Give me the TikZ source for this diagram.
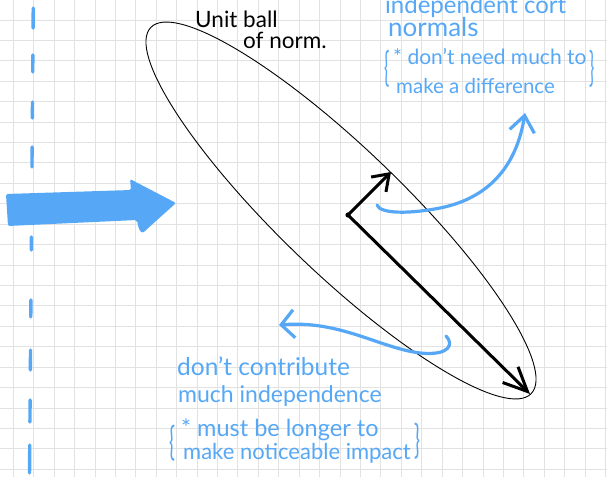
\documentclass[tikz,border=0pt]{standalone}
\usepackage{fontspec}
\setmainfont{Lato}
\usetikzlibrary{arrows.meta}
\definecolor{handblue}{RGB}{86,168,246}
\definecolor{gridgray}{RGB}{226,226,226}
\tikzset{
  gridline/.style={draw=gridgray, line width=0.9pt},
  bluestroke/.style={draw=handblue, line width=3.2pt, line cap=round, line join=round},
  blackvec/.style={draw=black, line width=3pt, line cap=round, line join=round},
  hand/.style={text=handblue, inner sep=0pt, anchor=base west},
  handblack/.style={text=black, inner sep=0pt, anchor=base west, font=\fontsize{22.5}{26}\selectfont},
  bracenode/.style={text=handblue, inner sep=0pt, anchor=center, font=\fontsize{22}{26}\selectfont},
}
\newcommand{\fsz}[1]{\fontsize{#1}{#1}\selectfont}
\begin{document}
\begin{tikzpicture}[x=1pt,y=-1pt]
\useasboundingbox (0,0) rectangle (607,477);
\fill[white] (0,0) rectangle (607,477);
% grid
\foreach \i in {0,...,29} \draw[gridline] ({13.3+20.42*\i},0) -- ({13.3+20.42*\i},477);
\foreach \j in {0,...,22} \draw[gridline] (0,{20+20.42*\j}) -- (607,{20+20.42*\j});
% dashed vertical line
\foreach \a/\b in {8/28,55/72,102/118,147/167,237/250,300/317,350/370,400/422,445/473}
  \draw[bluestroke, line width=3.4pt] ({33.3-3.8*\a/477},\a) -- ({33.3-3.8*\b/477},\b);
% big blue arrow
\fill[handblue, rounded corners=2pt] (6,194) -- (131,190) -- (130,179) -- (176,203) -- (146,230)
  .. controls (142,234) and (139,232) .. (137,220) -- (8,226) -- cycle;
% unit ball
\draw[line width=0.9pt, rotate around={-43.9:(341,210.5)}] (341,210.5) ellipse [x radius=264, y radius=62];
% vectors
\coordinate (o) at (348,215);
\coordinate (n1) at (391,172);
\coordinate (n2) at (530,394);
\fill (o) circle (2.6);
\draw[blackvec, -{Straight Barb[length=15pt,width=21pt]}] (o) -- (n1);
\draw[blackvec, -{Straight Barb[length=24pt,width=22pt]}] (o) -- (n2);
% blue curved arrows
\coordinate (c1s) at (377,205);
\coordinate (c1e) at (525,113);
\draw[bluestroke, -{Straight Barb[length=16pt,width=25pt]}] (c1s) .. controls (380,214) and (410,214) .. (440,208)
  .. controls (480,200) and (515,175) .. (c1e);
\coordinate (c2s) at (446,336);
\coordinate (c2e) at (279,325);
\draw[bluestroke, -{Straight Barb[length=13pt,width=28pt]}] (c2s) .. controls (454,344) and (450,356) .. (420,353)
  .. controls (380,348) and (340,320) .. (c2e);
% texts
\node[handblack] (u1) at (195,27) {Unit ball};
\node[handblack] (u2) at (243,48) {of norm.};
\node[hand, font=\fsz{24}] (t1) at (385,13) {independent cort};
\node[hand, font=\fsz{26}] (t2) at (388,36.7) {normals};
\node[bracenode] (t3l) at (387,69) {\scalebox{0.8}[1.85]{\{}};
\node[hand, font=\fsz{21}] (t3) at (393,64) {* don't need much to};
\node[hand, font=\fsz{20.5}] (t4) at (396,93) {make a difference};
\node[bracenode] (t3r) at (592,69) {\scalebox{0.8}[1.85]{\}}};
\node[hand, font=\fsz{24.5}] (b1) at (177,375) {don't contribute};
\node[hand, font=\fsz{23}] (b2) at (178,402) {much independence};
\node[bracenode] (b3l) at (172,443) {\scalebox{0.9}[1.8]{\{}};
\node[hand, font=\fsz{23.5}] (b3) at (181,436) {* must be longer to};
\node[hand, font=\fsz{22}] (b4) at (183,459) {make noticeable impact};
\node[bracenode] (b3r) at (417,441) {\scalebox{0.9}[1.8]{\}}};
\end{tikzpicture}
\end{document}
